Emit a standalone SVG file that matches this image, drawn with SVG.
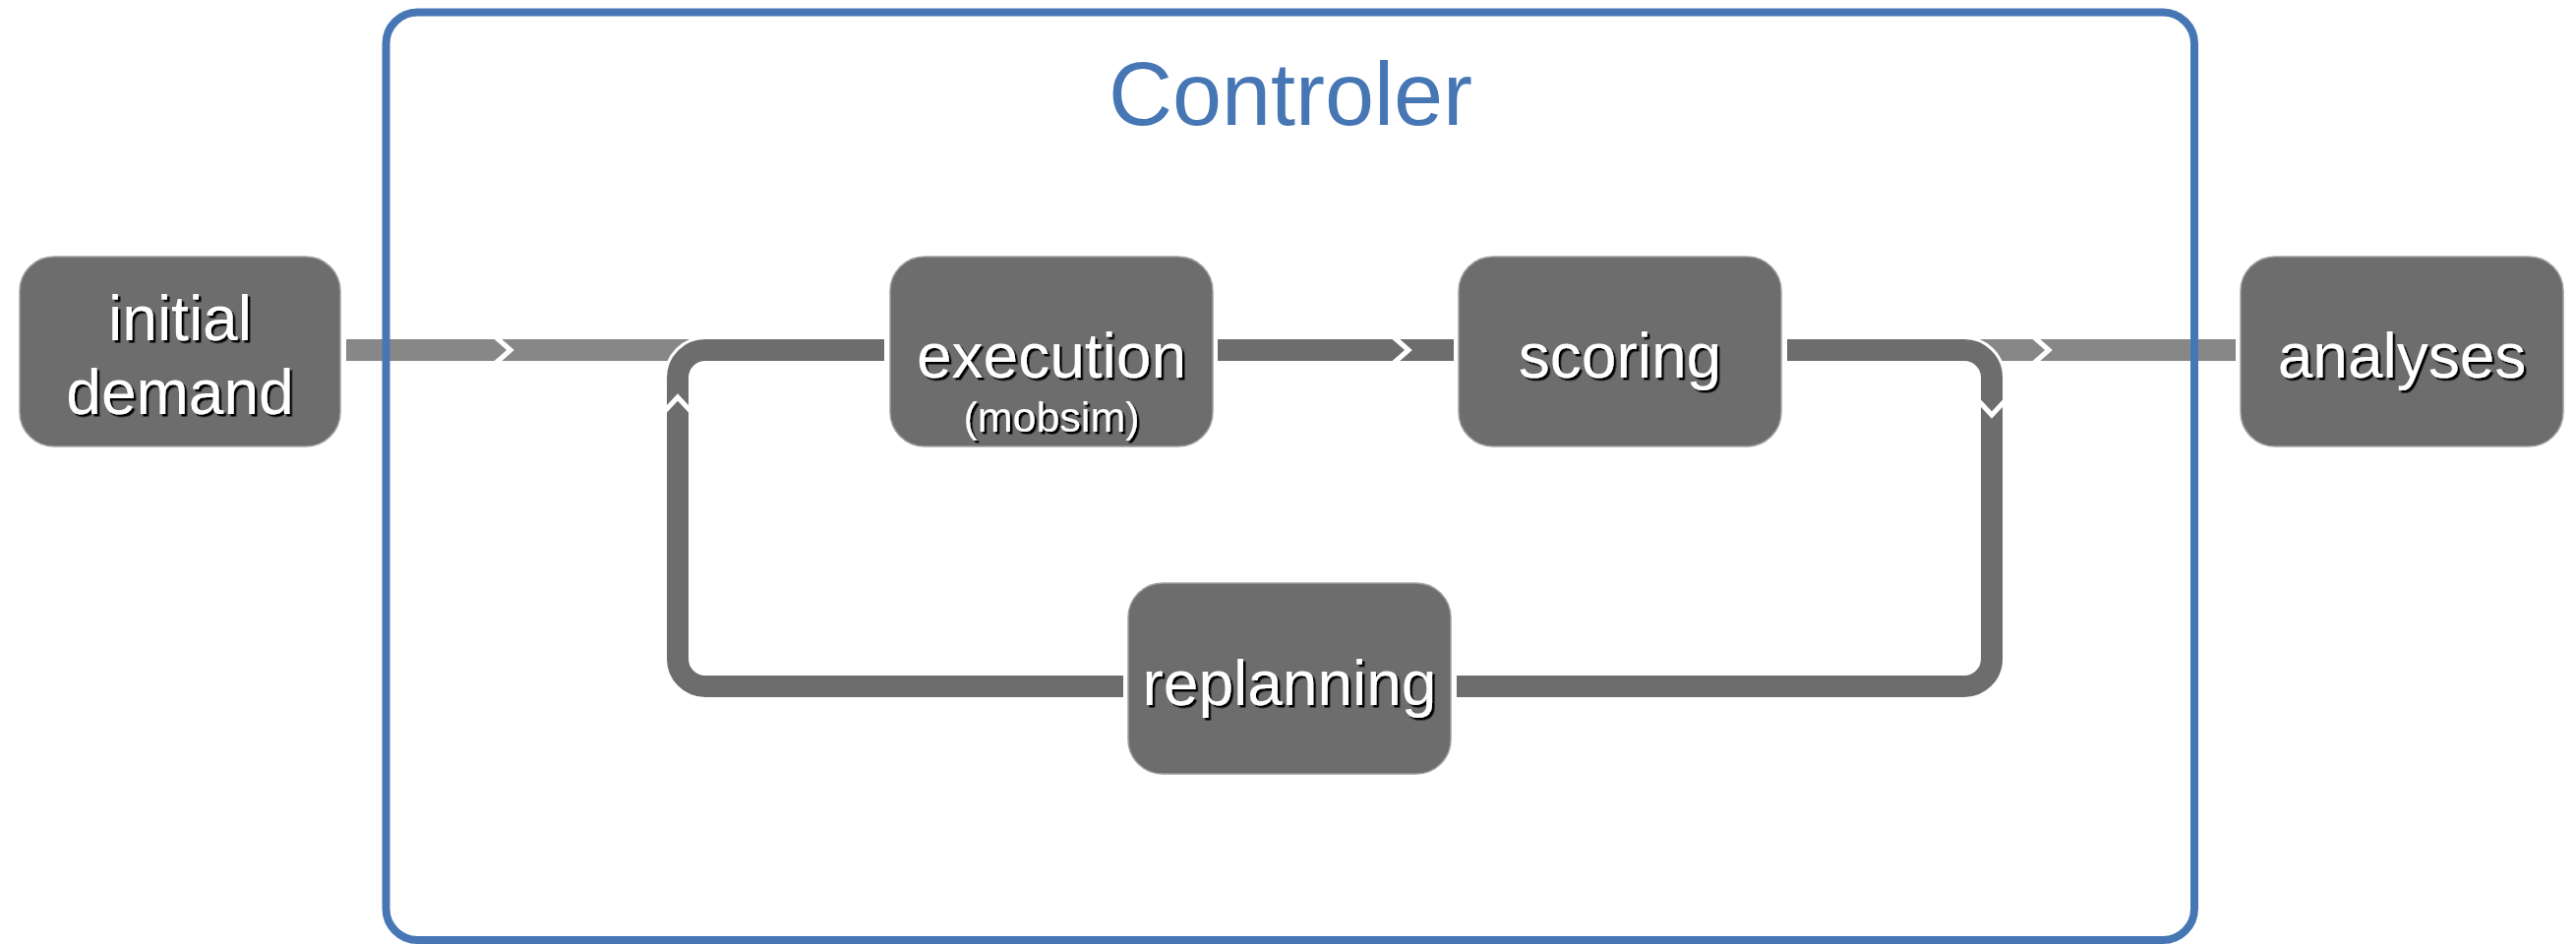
<svg xmlns="http://www.w3.org/2000/svg" width="2619" height="960" viewBox="0 0 2619 960">
  <style>
    .node { fill: #6d6d6d; stroke: #a0a0a0; stroke-width: 1.5; }
    .label { font-family: "Liberation Sans", Arial, sans-serif; fill: #ffffff; text-anchor: middle; filter: url(#shadow); }
    .big { font-size: 64px; }
    .small { font-size: 43px; }
    .band-in { fill: none; stroke: #878787; stroke-width: 22; }
    .band { fill: none; stroke: #6d6d6d; stroke-width: 22; }
    .halo { fill: none; stroke: #ffffff; stroke-width: 28; }
    .chev { fill: none; stroke: #ffffff; stroke-width: 5; stroke-linejoin: miter; }
    .frame { fill: none; stroke: #4677b4; stroke-width: 8; }
    .title { font-family: "Liberation Sans", Arial, sans-serif; font-size: 90px; fill: #4677b4; text-anchor: middle; }
  </style>
  <defs>
    <filter id="shadow" x="-10%" y="-20%" width="130%" height="150%">
      <feDropShadow dx="2.5" dy="2.5" stdDeviation="0.6" flood-color="#000000" flood-opacity="1"/>
    </filter>
  </defs>

  <rect width="2619" height="960" fill="#ffffff"/>

  <!-- connectors -->
  <g id="connectors">
    <!-- input / output bands -->
    <path class="band-in" d="M 352 356 H 717"/>
    <path class="band-in" d="M 1997 356 H 2273"/>
    <!-- replanning -> execution loop (left) -->
    <path class="halo" d="M 1142 698 H 717 A 28 28 0 0 1 689 670 V 384 A 28 28 0 0 1 717 356 H 899"/>
    <path class="band" d="M 1142 698 H 717 A 28 28 0 0 1 689 670 V 384 A 28 28 0 0 1 717 356 H 899"/>
    <!-- scoring -> replanning loop (right) -->
    <path class="halo" d="M 1817 356 H 1997 A 28 28 0 0 1 2025 384 V 670 A 28 28 0 0 1 1997 698 H 1481"/>
    <path class="band" d="M 1817 356 H 1997 A 28 28 0 0 1 2025 384 V 670 A 28 28 0 0 1 1997 698 H 1481"/>
    <!-- execution -> scoring -->
    <path class="band" d="M 1238 356 H 1478"/>
    <!-- direction chevrons -->
    <polyline class="chev" points="503,342 519,356 503,370"/>
    <polyline class="chev" points="1416,342 1432,356 1416,370"/>
    <polyline class="chev" points="2067,342 2083,356 2067,370"/>
    <polyline class="chev" points="675,419 689,404 703,419"/>
    <polyline class="chev" points="2011,407 2025,422 2039,407"/>
  </g>

  <!-- controller frame -->
  <g id="controller">
    <rect class="frame" x="392.5" y="12.5" width="1838.5" height="943.5" rx="32" ry="32"/>
    <text class="title" x="1312" y="127">Controler</text>
  </g>

  <g id="initial-demand">
    <rect class="node" x="20" y="261" width="326" height="193" rx="35" ry="35"/>
    <text class="label big" x="183" y="346">initial</text>
    <text class="label big" x="183" y="421">demand</text>
  </g>

  <g id="execution">
    <rect class="node" x="905" y="261" width="328" height="193" rx="35" ry="35"/>
    <text class="label big" x="1069" y="384">execution</text>
    <text class="label small" x="1069" y="439">(mobsim)</text>
  </g>

  <g id="scoring">
    <rect class="node" x="1483" y="261" width="328" height="193" rx="35" ry="35"/>
    <text class="label big" x="1647" y="384">scoring</text>
  </g>

  <g id="analyses">
    <rect class="node" x="2278" y="261" width="328" height="193" rx="35" ry="35"/>
    <text class="label big" x="2442" y="384">analyses</text>
  </g>

  <g id="replanning">
    <rect class="node" x="1147" y="593" width="328" height="194" rx="35" ry="35"/>
    <text class="label big" x="1311" y="717">replanning</text>
  </g>
</svg>
